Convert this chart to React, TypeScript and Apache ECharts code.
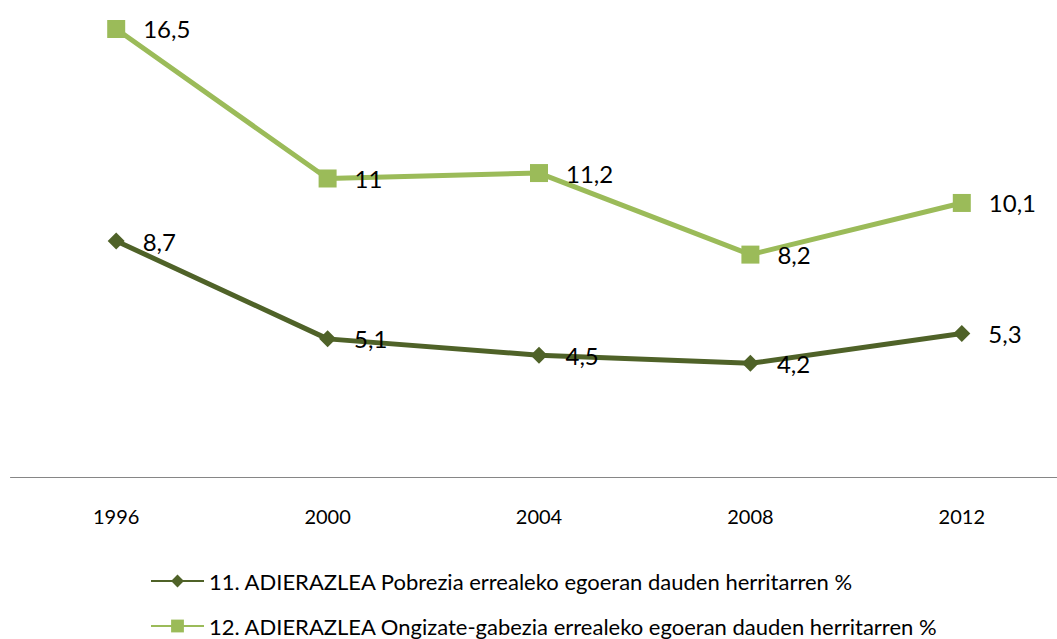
import React, { useEffect, useRef } from "react";
import * as echarts from "echarts";

const years = ["1996", "2000", "2004", "2008", "2012"];
const pobrezia = [8.7, 5.1, 4.5, 4.2, 5.3];
const ongizate = [16.5, 11, 11.2, 8.2, 10.1];
const name11 = "11. ADIERAZLEA Pobrezia errealeko egoeran dauden herritarren %";
const name12 = "12. ADIERAZLEA Ongizate-gabezia errealeko egoeran dauden herritarren %";

const FONT = "Lato, 'Open Sans', sans-serif";
const CHART_W = 1090;

export default function App() {
  const ref = useRef<HTMLDivElement>(null);
  useEffect(() => {
    const chart = echarts.init(ref.current!, null, { renderer: "svg" });
    const fmt = (p: any) => String(p.value).replace(".", ",");
    const legendBase = {
      orient: "horizontal",
      left: 150,
      padding: 0,
      itemWidth: 53,
      itemHeight: 16,
      textStyle: { fontSize: 22, color: "#000", fontFamily: FONT },
    };
    chart.setOption({
      animation: false,
      textStyle: { fontFamily: FONT },
      grid: { left: 10.5, right: CHART_W - 1067.5, top: 15.4, bottom: 161.5 },
      xAxis: {
        type: "category",
        data: years,
        boundaryGap: true,
        axisLine: { lineStyle: { color: "#868686", width: 1 } },
        axisTick: { length: 6, lineStyle: { color: "#868686" } },
        axisLabel: { color: "#000", fontSize: 20, margin: 28, fontFamily: FONT },
      },
      yAxis: {
        type: "value",
        min: 0,
        max: 17,
        show: false,
        splitLine: { show: false },
      },
      legend: [
        { ...legendBase, top: 570, data: [name11] },
        { ...legendBase, top: 615, data: [name12] },
      ],
      series: [
        {
          name: name11,
          type: "line",
          data: pobrezia,
          symbol: "diamond",
          symbolSize: 17,
          lineStyle: { color: "#4F6228", width: 5 },
          itemStyle: { color: "#4F6228" },
          label: {
            show: true,
            position: "right",
            distance: 18,
            formatter: fmt,
            fontSize: 24,
            color: "#000",
            fontFamily: FONT,
          },
        },
        {
          name: name12,
          type: "line",
          data: ongizate,
          symbol: "rect",
          symbolSize: 18,
          lineStyle: { color: "#9BBB59", width: 5 },
          itemStyle: { color: "#9BBB59" },
          label: {
            show: true,
            position: "right",
            distance: 18,
            formatter: fmt,
            fontSize: 24,
            color: "#000",
            fontFamily: FONT,
          },
        },
      ],
    });
    return () => chart.dispose();
  }, []);
  return (
    <div
      style={{
        position: "fixed",
        left: 0,
        top: 0,
        width: 1057,
        height: 639,
        overflow: "hidden",
        background: "#fff",
      }}
    >
      <div ref={ref} style={{ width: CHART_W, height: 639 }} />
    </div>
  );
}
